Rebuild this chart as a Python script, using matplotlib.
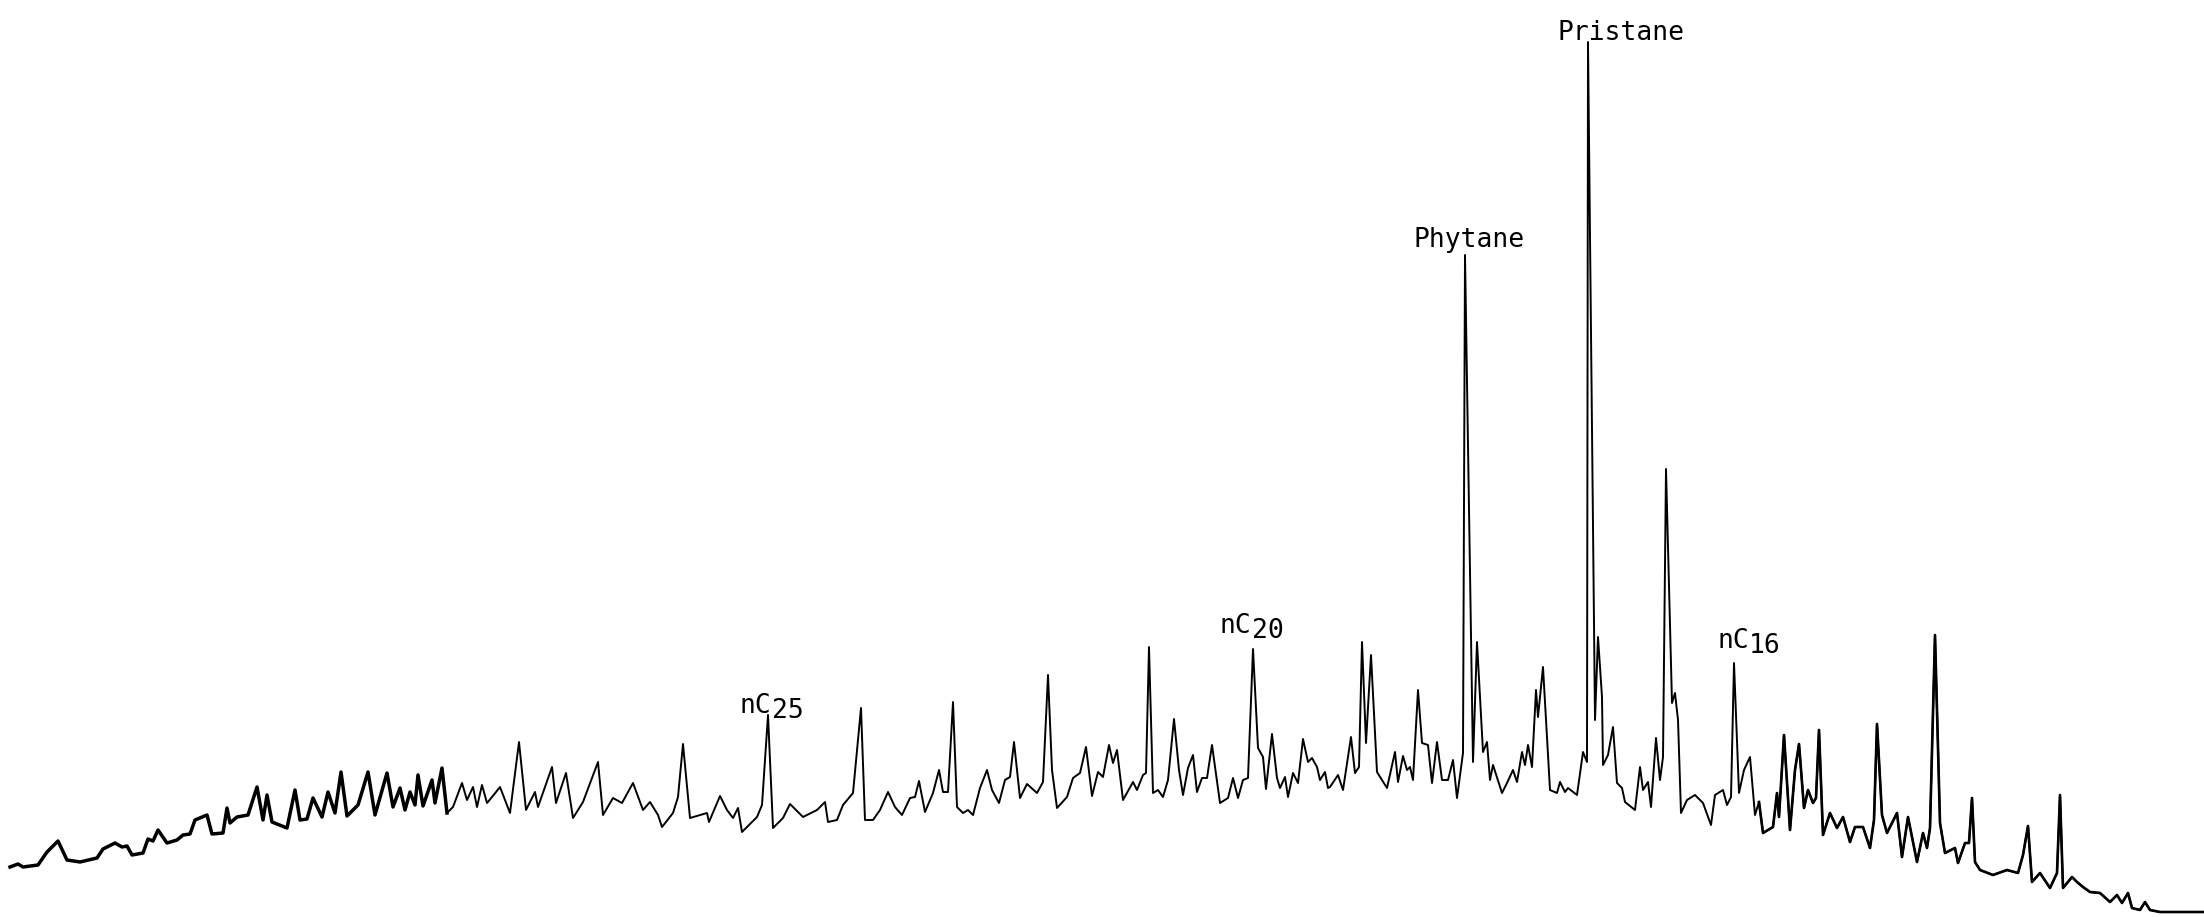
import matplotlib.pyplot as plt
import numpy as np

# retention position (scan px, left to right) and detector response (arb. units)
rt = [10, 18, 23, 38, 47, 58, 67, 80, 97, 103, 115, 122, 127, 132, 143, 148, 153, 158,
      167, 177, 183, 190, 195, 207, 212, 223, 227, 230, 237, 248, 257, 263, 267, 272,
      287, 295, 300, 307, 313, 322, 328, 335, 341, 347, 358, 368, 375, 387, 393, 400,
      405, 410, 415, 418, 423, 432, 435, 442, 447,
      453, 462, 467, 473, 477, 482, 487, 492, 500, 510, 519, 526, 535, 538, 552, 556,
      566, 573, 583, 598, 603, 613, 622, 633, 643, 650, 658, 662, 673, 678, 683, 688,
      690, 707, 709, 720, 727, 733, 738, 742, 757, 762, 768, 773, 783, 790, 803, 817,
      825, 828, 837, 843, 853, 861, 865, 873,
      880, 888, 895, 902, 910, 915, 919, 925, 933, 939, 943, 948, 953, 957, 963, 968,
      973, 980, 987, 992, 999, 1005, 1010, 1014, 1020, 1027, 1037, 1043, 1048, 1052,
      1057, 1067, 1073, 1080, 1086, 1092, 1098, 1103, 1109, 1113, 1117, 1123, 1133,
      1137, 1143, 1146, 1149, 1153, 1158, 1163, 1168, 1174, 1179, 1183, 1188, 1193,
      1197, 1202, 1207, 1212, 1220, 1228, 1233, 1238, 1243, 1248, 1253, 1258, 1263,
      1266, 1272, 1277, 1280, 1285, 1288, 1293, 1298, 1303, 1308, 1312, 1317, 1320,
      1325, 1328,
      1330, 1338, 1343, 1351, 1355, 1359, 1362, 1366, 1371, 1377, 1387, 1395, 1398,
      1403, 1407, 1410, 1413, 1418, 1422, 1428, 1432, 1437, 1442, 1448, 1453, 1457,
      1463, 1465, 1473, 1477, 1483, 1487, 1490, 1493, 1502, 1507, 1513, 1517, 1522,
      1525, 1528, 1532, 1536, 1538, 1543, 1550, 1557, 1560, 1565, 1568, 1577, 1583,
      1587, 1588, 1595, 1598, 1602, 1603, 1608, 1613, 1617, 1622, 1625, 1635, 1640,
      1643, 1648, 1651, 1656, 1660, 1663, 1666, 1672, 1675, 1678, 1681, 1687, 1695,
      1703, 1711, 1715, 1723, 1727, 1731, 1734, 1739, 1744, 1750, 1755, 1759,
      1763, 1773, 1777, 1779, 1784, 1790, 1795, 1799, 1804, 1808, 1813, 1816, 1819,
      1823, 1830, 1837, 1843, 1850, 1855, 1863, 1870, 1874, 1877, 1882, 1887, 1897,
      1902, 1908, 1917, 1923, 1927, 1930, 1935, 1940, 1945, 1955, 1958, 1965, 1969,
      1972, 1975, 1980, 1993, 2007, 2018, 2023, 2028, 2032, 2040, 2050, 2057, 2060,
      2063, 2072, 2077, 2083, 2090, 2100, 2110, 2117, 2122, 2128, 2132, 2140, 2145,
      2150, 2160, 2203]

resp = [50, 53, 50, 52, 65, 76, 57, 55, 59, 68, 74, 70, 71, 62, 64, 78, 76, 87,
        74, 77, 82, 83, 97, 102, 83, 84, 109, 94, 100, 102, 130, 97, 122, 95,
        89, 127, 97, 98, 119, 100, 125, 104, 145, 101, 112, 145, 102, 144, 110, 129,
        107, 125, 112, 142, 111, 137, 114, 149, 104,
        110, 134, 117, 130, 110, 132, 114, 120, 130, 104, 175, 107, 125, 110, 150, 114,
        144, 99, 115, 155, 102, 119, 114, 134, 107, 115, 102, 90, 104, 120, 173, 120,
        99, 104, 95, 121, 107, 99, 109, 85, 100, 112, 202, 89, 99, 113, 100, 107,
        115, 95, 97, 112, 124, 209, 97, 97,
        107, 125, 110, 102, 119, 120, 136, 105, 124, 147, 125, 125, 215, 110, 104, 107,
        102, 129, 147, 127, 114, 137, 140, 175, 119, 133, 124, 135, 242, 147,
        109, 120, 139, 144, 170, 121, 145, 140, 172, 154, 167, 117, 135,
        127, 142, 144, 270, 124, 127, 120, 137, 198, 147, 122, 149, 162,
        125, 139, 139, 172, 114, 119, 139, 119, 137, 139, 268, 169, 160,
        128, 183, 139, 129, 140, 120, 144, 134, 178, 155, 159, 150, 137,
        145, 129,
        130, 142, 127, 180, 144, 150, 275, 174, 262, 145, 129, 165, 135,
        161, 147, 150, 137, 227, 174, 172, 134, 175, 137, 137, 157, 119,
        164, 662, 155, 275, 165, 175, 137, 152, 124, 134, 147, 135, 165,
        152, 172, 150, 227, 200, 250, 127, 124, 135, 125, 129, 122, 165,
        155, 875, 197, 280, 220, 152, 162, 190, 134, 129, 115, 107, 150,
        127, 135, 110, 179, 137, 160, 448, 214, 224, 197, 104, 117, 122,
        114, 92, 122, 127, 112, 120, 254, 124, 147, 160, 102, 115,
        84, 90, 124, 100, 182, 87, 147, 173, 109, 127, 114, 119, 187,
        82, 104, 89, 100, 75, 90, 90, 69, 97, 193, 102, 84, 104,
        60, 100, 55, 84, 69, 89, 282, 94, 64, 69, 54, 74, 74,
        119, 55, 47, 42, 47, 44, 62, 91, 35, 44, 29, 44, 122,
        29, 40, 35, 30, 25, 24, 15, 22, 14, 24, 9, 7, 15,
        7, 5, 5]

# peak labels: main text, subscript, anchor (rt, resp) of each part
labels = [("Pristane", "", 1557, 877),
          ("Phytane", "", 1413, 670),
          ("nC", "25", 740, 204),
          ("nC", "20", 1220, 284),
          ("nC", "16", 1717, 269)]

rt = np.array(rt)
resp = np.array(resp)

fig = plt.figure(figsize=(22.04, 9.17), dpi=100)
ax = fig.add_axes([0, 0, 1, 1])
ax.set_xlim(0, 2204)
ax.set_ylim(0, 917)
ax.axis('off')

ax.plot(rt, resp, color='black', lw=1.4, solid_joinstyle='round')
# the pen trace is heavier at both ends of the run
left = rt <= 450
right = rt >= 1759
ax.plot(rt[left], resp[left], color='black', lw=2.5, solid_joinstyle='round')
ax.plot(rt[right], resp[right], color='black', lw=1.9, solid_joinstyle='round')

font = dict(family='DejaVu Sans Mono', fontsize=19, color='black')
for main, sub, x, y in labels:
    ax.text(x, y, main, ha='left', va='baseline', **font)
    if sub:
        ax.text(x + 32, y - 5, sub, ha='left', va='baseline', **font)

fig.savefig('out.png', dpi=100)
